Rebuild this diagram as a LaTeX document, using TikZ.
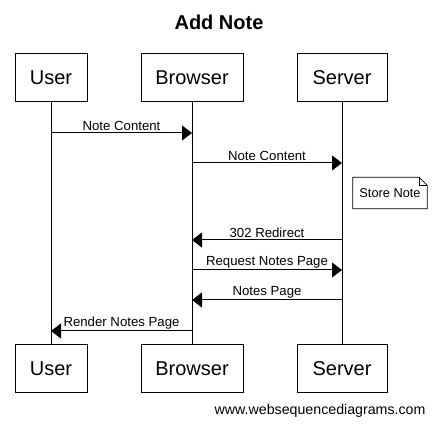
\documentclass[tikz,border=0pt]{standalone}
\usepackage{fontspec}
\setmainfont{Liberation Sans}
\usepackage{tikz}
\usetikzlibrary{arrows.meta,calc}
\tikzset{
  actor/.style={draw,line width=1pt,minimum height=48pt,inner sep=0pt,font=\fontsize{20}{24}\selectfont},
  life/.style={line width=1pt},
  msg/.style={-{Triangle[length=10pt,width=15pt]},line width=1pt},
  mlab/.style={font=\fontsize{13.2}{15}\selectfont,above,inner sep=1.5pt},
  vnote/.style={font=\fontsize{12.8}{15}\selectfont,inner sep=0pt,minimum width=74pt,minimum height=31pt}
}
\begin{document}
\begin{tikzpicture}[x=1pt,y=-1pt]
  \useasboundingbox (0,0) rectangle (437,427);
  % title
  \node[font=\fontsize{20}{24}\selectfont\bfseries] (title) at (219,22) {Add Note};
  % actors, top row
  \node[actor,minimum width=72pt] (ut) at (51,77.5) {User};
  \node[actor,minimum width=102pt] (bt) at (192,77.5) {Browser};
  \node[actor,minimum width=90pt] (st) at (342,77.5) {Server};
  % actors, bottom row
  \node[actor,minimum width=72pt] (ub) at (51,369) {User};
  \node[actor,minimum width=102pt] (bb) at (192,369) {Browser};
  \node[actor,minimum width=90pt] (sb) at (342,369) {Server};
  % lifelines
  \draw[life] (ut.south) -- (ub.north);
  \draw[life] (bt.south) -- (bb.north);
  \draw[life] (st.south) -- (sb.north);
  % message points on the lifelines
  \coordinate (u1) at (51,133);  \coordinate (b1) at (192,133);
  \coordinate (b2) at (192,163); \coordinate (s2) at (342,163);
  \coordinate (s3) at (342,240); \coordinate (b3) at (192,240);
  \coordinate (b4) at (192,270); \coordinate (s4) at (342,270);
  \coordinate (s5) at (342,300); \coordinate (b5) at (192,300);
  \coordinate (b6) at (192,331); \coordinate (u6) at (51,331);
  % messages
  \draw[msg] (u1) -- node[mlab] {Note Content} (b1);
  \draw[msg] (b2) -- node[mlab] {Note Content} (s2);
  \draw[msg] (s3) -- node[mlab] {302 Redirect} (b3);
  \draw[msg] (b4) -- node[mlab] {Request Notes Page} (s4);
  \draw[msg] (s5) -- node[mlab] {Notes Page} (b5);
  \draw[msg] (b6) -- node[mlab] {Render Notes Page} (u6);
  % note
  \node[vnote] (sn) at (390,193) {Store Note};
  \draw[line width=0.8pt] (sn.north west) -- ($(sn.north east)+(-8,0)$) -- ($(sn.north east)+(0,8)$)
    -- (sn.south east) -- (sn.south west) -- cycle;
  \draw[line width=0.8pt] ($(sn.north east)+(-8,0)$) -- ($(sn.north east)+(-8,8)$) -- ($(sn.north east)+(0,8)$);
  % footer
  \node[font=\fontsize{14.2}{17}\selectfont,anchor=east] (web) at (429,411) {www.websequencediagrams.com};
\end{tikzpicture}
\end{document}
